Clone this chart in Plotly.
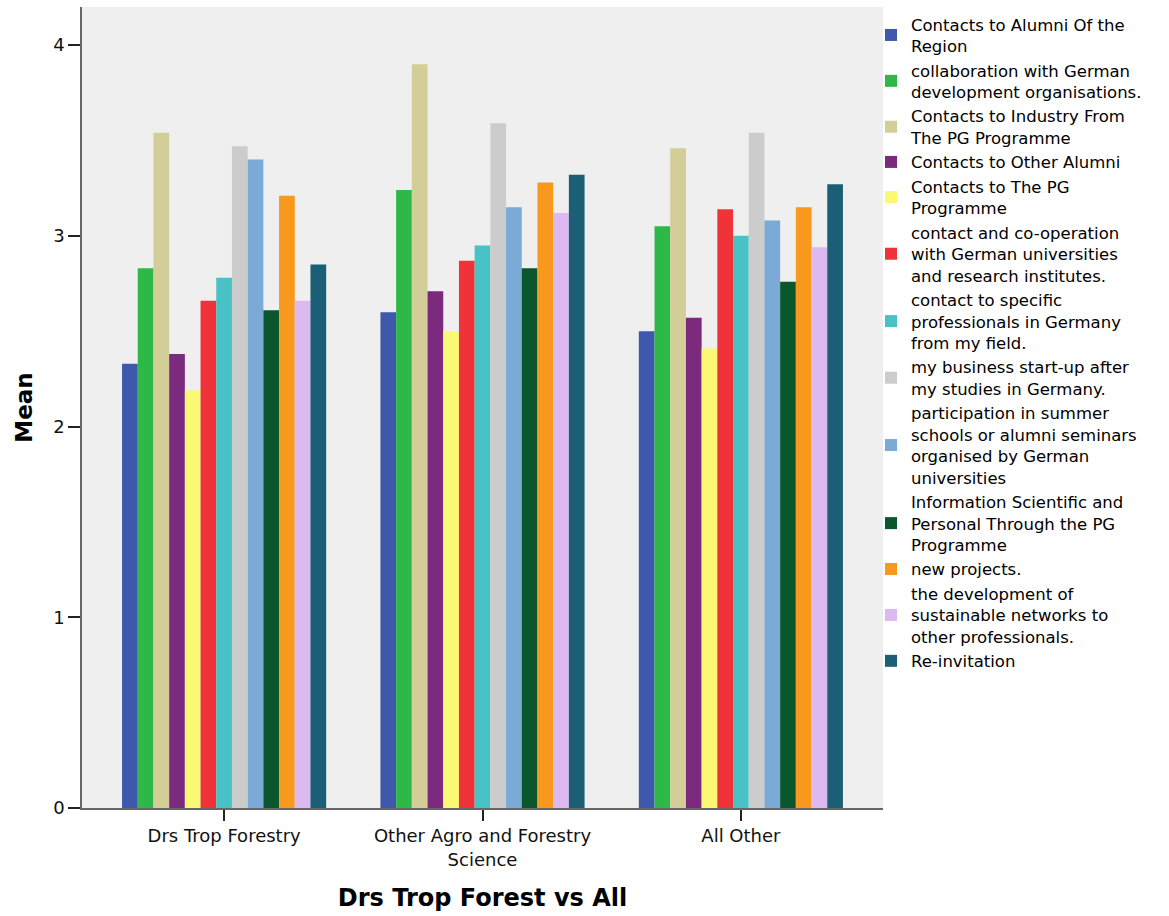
import plotly.graph_objects as go

categories = ["Drs Trop Forestry", "Other Agro and Forestry<br>Science", "All Other"]

series_names = [
    "Contacts to Alumni Of the<br>Region",
    "collaboration with German<br>development organisations.",
    "Contacts to Industry From<br>The PG Programme",
    "Contacts to Other Alumni",
    "Contacts to The PG<br>Programme",
    "contact and co-operation<br>with German universities<br>and research institutes.",
    "contact to specific<br>professionals in Germany<br>from my field.",
    "my business start-up after<br>my studies in Germany.",
    "participation in summer<br>schools or alumni seminars<br>organised by German<br>universities",
    "Information Scientific and<br>Personal Through the PG<br>Programme",
    "new projects.",
    "the development of<br>sustainable networks to<br>other professionals.",
    "Re-invitation",
]

series_colors = [
    "#3E58AC", "#2EB848", "#D3CE97", "#7B2A7D", "#FBF873", "#EF3338",
    "#48C2C5", "#CCCCCC", "#7BAAD6", "#0A562D", "#F8981D", "#DDB9F1", "#1A5F76",
]

# mean values per series, for [Drs Trop Forestry, Other Agro..., All Other]
alumni_region = [2.33, 2.60, 2.50]
collab_german_dev = [2.83, 3.24, 3.05]
industry_pg = [3.54, 3.90, 3.46]
other_alumni = [2.38, 2.71, 2.57]
pg_programme = [2.19, 2.50, 2.41]
german_universities = [2.66, 2.87, 3.14]
specific_professionals = [2.78, 2.95, 3.00]
business_startup = [3.47, 3.59, 3.54]
summer_schools = [3.40, 3.15, 3.08]
info_scientific = [2.61, 2.83, 2.76]
new_projects = [3.21, 3.28, 3.15]
sustainable_networks = [2.66, 3.12, 2.94]
re_invitation = [2.85, 3.32, 3.27]

series_values = [
    alumni_region, collab_german_dev, industry_pg, other_alumni, pg_programme,
    german_universities, specific_professionals, business_startup, summer_schools,
    info_scientific, new_projects, sustainable_networks, re_invitation,
]

y_ticks = [0, 1, 2, 3, 4]

FONT = "DejaVu Sans, Verdana, sans-serif"

fig = go.Figure()
for name, vals, col in zip(series_names, series_values, series_colors):
    fig.add_trace(go.Bar(
        x=categories, y=vals, name=name,
        marker=dict(color=col, line=dict(width=0)),
    ))

fig.update_layout(
    width=1169, height=916,
    margin=dict(l=82, r=286, t=7, b=108),
    paper_bgcolor="white",
    plot_bgcolor="#EFEFEF",
    barmode="group",
    bargap=0.21,
    bargroupgap=0,
    font=dict(family=FONT, color="#000000", size=18),
    showlegend=True,
    legend=dict(
        x=0.985, xanchor="left", y=1.0, yanchor="top",
        bgcolor="rgba(0,0,0,0)", borderwidth=0,
        font=dict(family=FONT, size=16.5, color="#000000"),
        traceorder="normal",
        itemclick=False,
        tracegroupgap=0,
    ),
    xaxis=dict(
        type="category",
        range=[-0.55, 2.55],
        showgrid=False, zeroline=False,
        showline=True, linecolor="#666666", linewidth=1.5,
        ticks="outside", ticklen=11, tickcolor="#222222", tickwidth=1.5,
        tickfont=dict(family=FONT, size=18, color="#111111"),
        title=dict(text="<b>Drs Trop Forest vs All</b>", standoff=20,
                   font=dict(family=FONT, size=24, color="#000000")),
    ),
    yaxis=dict(
        range=[0, 4.2],
        tickvals=y_ticks,
        showgrid=False, zeroline=False,
        showline=True, linecolor="#666666", linewidth=1.5,
        ticks="outside", ticklen=12, tickcolor="#222222", tickwidth=1.5,
        tickfont=dict(family=FONT, size=18, color="#111111"),
        title=dict(text="<b>Mean</b>", standoff=14,
                   font=dict(family=FONT, size=23, color="#000000")),
    ),
)

# remove the browser's default 8px body margin so the figure starts at (0, 0)
fig.write_html("out.html", config={"displayModeBar": False},
               post_script="document.body.style.margin='0';")
